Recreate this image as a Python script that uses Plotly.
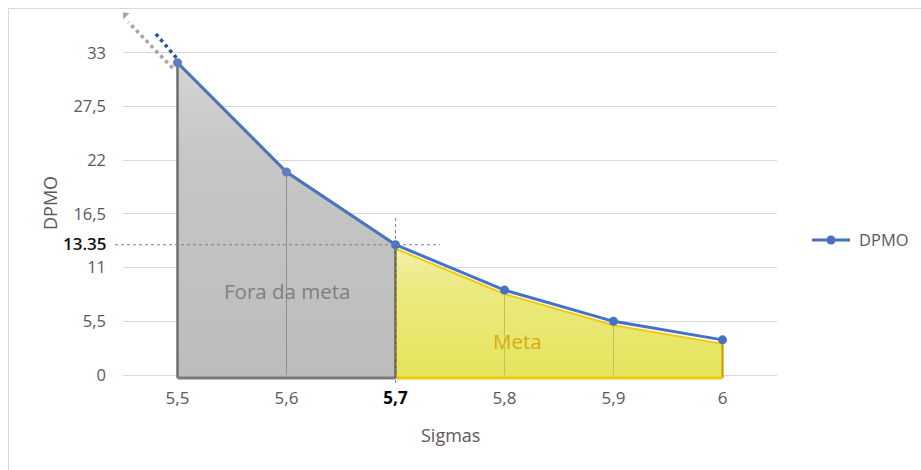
import plotly.graph_objects as go

# ---------------- data ----------------
sigmas = [5.5, 5.6, 5.7, 5.8, 5.9, 6.0]
dpmo = [32.0, 20.8, 13.35, 8.7, 5.5, 3.6]
x_tick_vals = [5.5, 5.6, 5.7, 5.8, 5.9, 6.0]
x_tick_text = ["5,5", "5,6", "<span style='color:#000000'><b>5,7</b></span>", "5,8", "5,9", "6"]
y_tick_vals = [0, 5.5, 11, 16.5, 22, 27.5, 33]
y_tick_text = ["0", "5,5", "11", "16,5", "22", "27,5", "33"]
target_sigma = 5.7
target_dpmo = 13.35
target_label = "13.35"
series_name = "DPMO"
# trend extension (dotted, upper-left of the first point)
gray_ext_x = [5.4955, 5.455, 5.4495]
gray_ext_y = [31.45, 36.15, 36.8]
blue_ext_x = [5.499, 5.479]
blue_ext_y = [32.5, 35.1]

# ---------------- layout constants ----------------
W, H = 921, 470
ML, MR, MT, MB = 123, 144, 10, 89
PW = W - ML - MR
PH = H - MT - MB
X_RANGE = [5.45, 6.05]
Y_RANGE = [-0.615, 37.4]


def px_x(p):
    return (p - ML) / PW


def px_y(p):
    return (H - MB - p) / PH


BLUE = "#4472c4"
GRAY_TXT = "#595959"

fig = go.Figure()

# gray region (Fora da meta)
gi = [i for i, s in enumerate(sigmas) if s <= target_sigma]
gx = [sigmas[gi[0]]] + [sigmas[i] for i in gi] + [sigmas[gi[-1]]]
gy = [-0.3] + [dpmo[i] for i in gi] + [-0.3]
fig.add_trace(go.Scatter(
    x=gx, y=gy, mode="lines", fill="toself",
    fillgradient=dict(type="vertical", colorscale=[[0, "#bcbcbc"], [0.7, "#c6c6c6"], [1, "#d4d4d4"]]),
    line=dict(color="#6f6f6f", width=2.5), hoverinfo="skip", showlegend=False))

# yellow region (Meta)
yi = [i for i, s in enumerate(sigmas) if s >= target_sigma]
yx = [sigmas[yi[0]]] + [sigmas[i] for i in yi] + [sigmas[yi[-1]]]
yy = [-0.3] + [dpmo[i] - 0.4 for i in yi] + [-0.3]
fig.add_trace(go.Scatter(
    x=yx, y=yy, mode="lines", fill="toself",
    fillgradient=dict(type="vertical", colorscale=[[0, "#e5e45c"], [0.7, "#ebea80"], [1, "#f1f0a8"]]),
    line=dict(color="#f2c811", width=2), hoverinfo="skip", showlegend=False))
# darker edges of the yellow region
fig.add_trace(go.Scatter(
    x=[sigmas[yi[-1]], sigmas[yi[-1]]], y=[dpmo[yi[-1]] - 0.4, -0.3], mode="lines",
    line=dict(color="#c9a20a", width=2), hoverinfo="skip", showlegend=False))
fig.add_trace(go.Scatter(
    x=[sigmas[yi[0]], sigmas[yi[-1]]], y=[-0.3, -0.3], mode="lines",
    line=dict(color="#f2c811", width=3), hoverinfo="skip", showlegend=False))
fig.add_trace(go.Scatter(
    x=[sigmas[gi[0]], sigmas[gi[-1]]], y=[-0.3, -0.3], mode="lines",
    line=dict(color="#7a7a7a", width=3), hoverinfo="skip", showlegend=False))
fig.add_trace(go.Scatter(
    x=[target_sigma, target_sigma], y=[target_dpmo, -0.3], mode="lines",
    line=dict(color="#555555", width=2), hoverinfo="skip", showlegend=False))

# drop lines inside the areas
for i, s in enumerate(sigmas):
    if s in (sigmas[0], target_sigma, sigmas[-1]):
        continue
    col = "#8f8f8f" if s < target_sigma else "#c5c05a"
    top = dpmo[i] if s < target_sigma else dpmo[i] - 0.4
    fig.add_trace(go.Scatter(x=[s, s], y=[top, 0], mode="lines",
                             line=dict(color=col, width=1), hoverinfo="skip", showlegend=False))

# dotted extensions
fig.add_trace(go.Scatter(
    x=gray_ext_x[:2], y=gray_ext_y[:2], mode="lines",
    line=dict(color="#a6a6a6", width=3.5, dash="dot"), hoverinfo="skip", showlegend=False))
fig.add_trace(go.Scatter(
    x=gray_ext_x[1:], y=gray_ext_y[1:], mode="markers",
    marker=dict(symbol="triangle-up", size=12, color="#a6a6a6", angleref="previous"),
    hoverinfo="skip", showlegend=False))
fig.add_trace(go.Scatter(
    x=blue_ext_x, y=blue_ext_y, mode="lines",
    line=dict(color="#2f5597", width=3.5, dash="dot"), hoverinfo="skip", showlegend=False))

# main series
marker_cols = ["#5b7fc0" if s < target_sigma else BLUE for s in sigmas]
fig.add_trace(go.Scatter(
    x=sigmas, y=dpmo, mode="lines+markers", name=series_name,
    line=dict(color=BLUE, width=3),
    marker=dict(size=9, color=marker_cols),
    showlegend=False))
# muted overlay on the gray part
fig.add_trace(go.Scatter(
    x=[sigmas[i] for i in gi], y=[dpmo[i] for i in gi], mode="lines",
    line=dict(color="rgba(120,130,150,0.35)", width=1.5), hoverinfo="skip", showlegend=False))

# target guide lines
fig.add_shape(type="line", xref="paper", yref="y", x0=px_x(115), x1=px_x(440),
              y0=target_dpmo, y1=target_dpmo, line=dict(color="#808080", width=1, dash="dot"))
fig.add_shape(type="line", xref="x", yref="paper", x0=target_sigma, x1=target_sigma,
              y0=px_y(383), y1=px_y(218), line=dict(color="#808080", width=1, dash="dot"))
# chart border
fig.add_shape(type="rect", xref="paper", yref="paper", x0=px_x(8.5), x1=px_x(940),
              y0=px_y(480), y1=px_y(8.5), line=dict(color="#d9d9d9", width=1))

# legend (drawn manually to match the long line symbol)
fig.add_shape(type="line", xref="paper", yref="paper", x0=px_x(812), x1=px_x(850),
              y0=px_y(240), y1=px_y(240), line=dict(color=BLUE, width=3))
fig.add_shape(type="circle", xref="paper", yref="paper", xsizemode="pixel", ysizemode="pixel",
              xanchor=px_x(831), yanchor=px_y(240), x0=-4.5, x1=4.5, y0=-4.5, y1=4.5,
              fillcolor=BLUE, line=dict(color=BLUE, width=0))

font = "Open Sans, Segoe UI, sans-serif"
fig.add_annotation(text=series_name, xref="paper", yref="paper", x=px_x(857), y=px_y(240),
                   xanchor="left", yanchor="middle", showarrow=False,
                   font=dict(family=font, size=16.5, color=GRAY_TXT))
fig.add_annotation(text=target_label, xref="paper", yref="y", x=px_x(109), y=target_dpmo,
                   xanchor="right", yanchor="middle", showarrow=False, yshift=1,
                   font=dict(family=font, size=17, color="#111111", weight=600))
fig.add_annotation(text="Fora da meta", x=5.6, y=8.6, showarrow=False,
                   font=dict(family=font, size=20.5, color="#7f7f7f"))
fig.add_annotation(text="Meta", x=5.812, y=3.5, showarrow=False,
                   font=dict(family=font, size=20.5, color="#d8ab12"))
fig.add_annotation(text="DPMO", xref="paper", yref="paper", x=px_x(50), y=px_y(203),
                   xanchor="center", yanchor="middle",
                   textangle=-90, showarrow=False, font=dict(family=font, size=18, color=GRAY_TXT))
fig.add_annotation(text="Sigmas", xref="paper", yref="paper", x=px_x(450), y=px_y(435),
                   xanchor="center", yanchor="middle",
                   showarrow=False, font=dict(family=font, size=18, color=GRAY_TXT))

fig.update_layout(
    width=W, height=H,
    margin=dict(l=ML, r=MR, t=MT, b=MB),
    paper_bgcolor="white", plot_bgcolor="white",
    font=dict(family=font, size=17, color=GRAY_TXT),
    xaxis=dict(range=X_RANGE, tickvals=x_tick_vals, ticktext=x_tick_text,
               showgrid=False, zeroline=False, showline=False, ticks="",
               ticklabelstandoff=5, tickfont=dict(size=17, color=GRAY_TXT)),
    yaxis=dict(range=Y_RANGE, tickvals=y_tick_vals, ticktext=y_tick_text,
               showgrid=True, gridcolor="#d9d9d9", gridwidth=1, zeroline=False,
               showline=False, ticks="", ticklabelstandoff=16,
               tickfont=dict(size=16.5, color=GRAY_TXT)),
    showlegend=False,
)

fig.write_html("out.html", config={"displayModeBar": False},
               post_script="document.body.style.margin='0px';document.body.style.padding='0px';")
